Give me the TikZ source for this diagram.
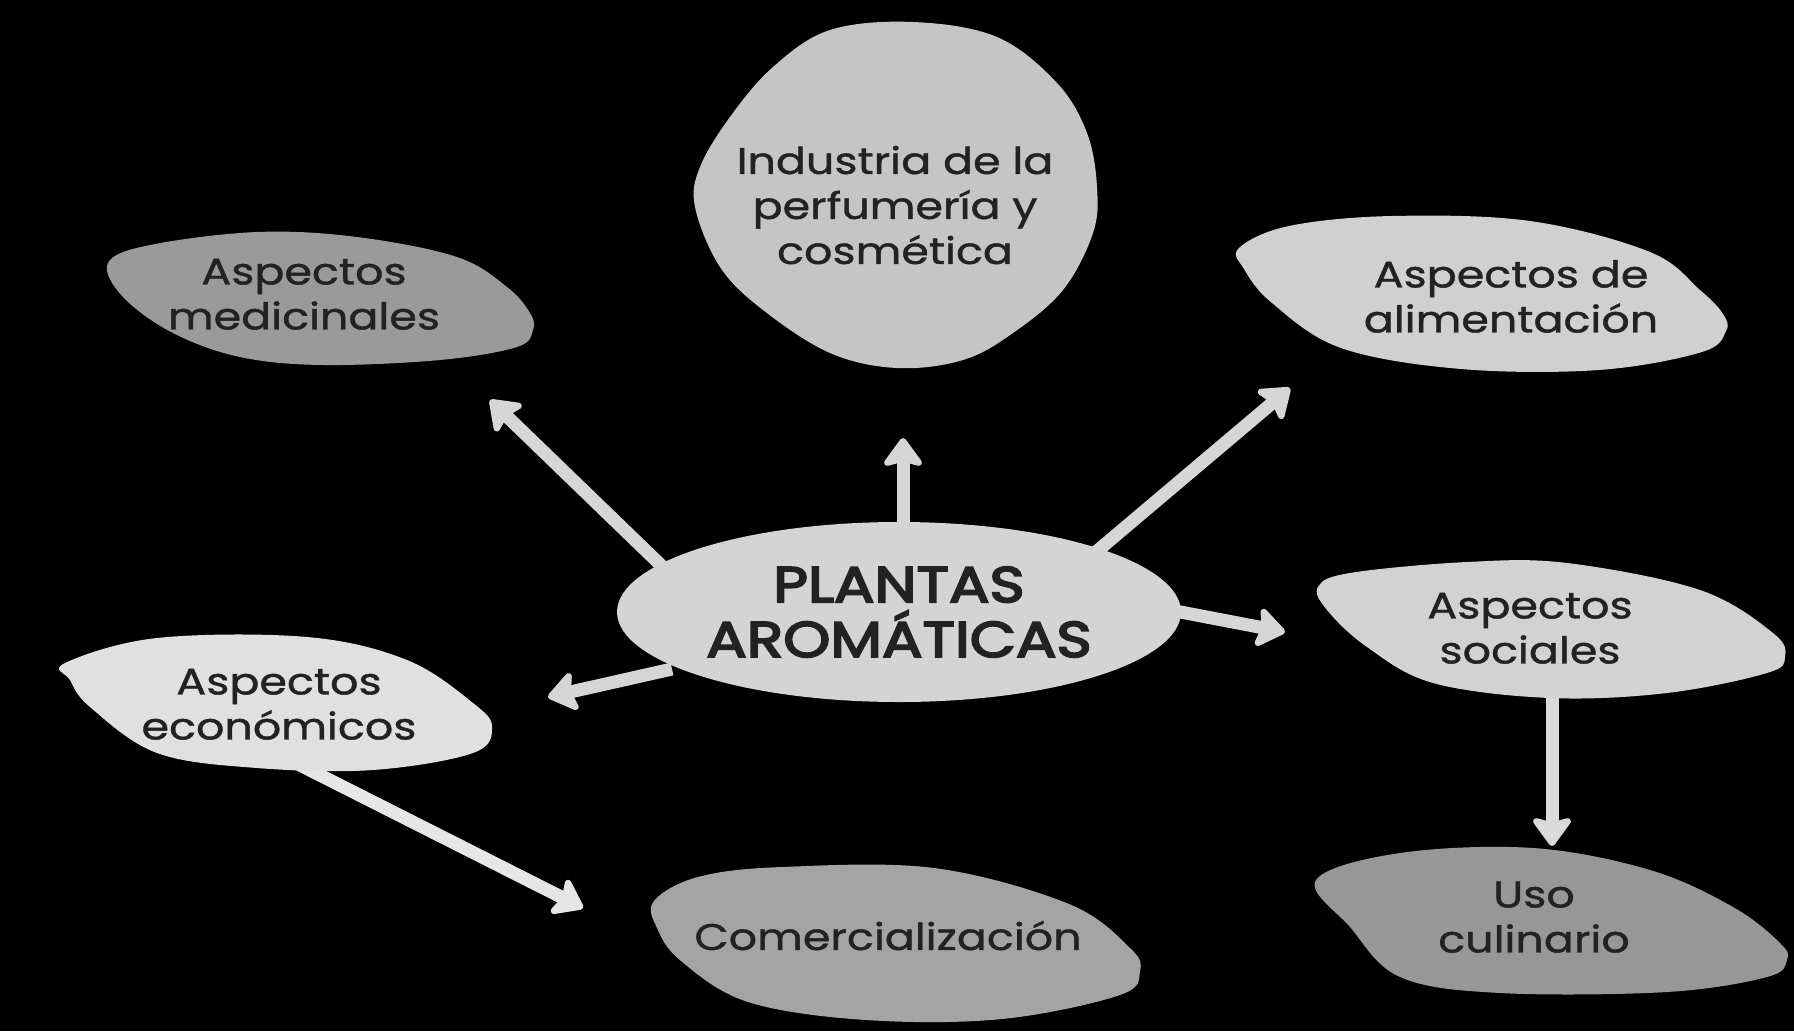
\documentclass[tikz,border=0pt]{standalone}
\usepackage{fontspec}
\setmainfont{Poppins}[FakeStretch=1.2]
\newfontfamily\lblfont{Poppins}[FakeStretch=1.2, FakeBold=1.1]
\newfontfamily\cenfont{Poppins}[FakeStretch=1.2, FakeBold=4]
\usetikzlibrary{arrows.meta,shapes.geometric}
\newcommand\lstrut{\rule[-0.15em]{0pt}{1em}}
\definecolor{txt}{HTML}{222222}
\definecolor{cInd}{HTML}{C5C5C5}
\definecolor{cMed}{HTML}{9A9A9A}
\definecolor{cAli}{HTML}{D0D0D0}
\definecolor{cCen}{HTML}{D4D4D4}
\definecolor{cSoc}{HTML}{D2D2D2}
\definecolor{cEco}{HTML}{E0E0E0}
\definecolor{cCom}{HTML}{A4A4A4}
\definecolor{cCul}{HTML}{979797}
\definecolor{aMain}{HTML}{D6D6D6}
\definecolor{aEco}{HTML}{E6E6E6}
\definecolor{aSoc}{HTML}{DADADA}
\tikzset{
  lbl/.style={inner sep=0pt, align=center, text=txt, font=\lblfont\fontsize{37}{45}\selectfont},
  blob/.style={fill=#1, draw=none},
  arr/.style={line width=13pt, draw=#1, -{Stealth[length=32pt,width=46pt,inset=6pt,round]}},
}
\begin{document}
\begin{tikzpicture}[x=1pt,y=-1pt]
\useasboundingbox (0,0) rectangle (1794,1031);
\fill[black] (0,0) rectangle (1794,1031);

% arrow end points
\coordinate (s1) at (668,572);  \coordinate (t1) at (490,400);
\coordinate (s2) at (903,540);  \coordinate (t2) at (903,438);
\coordinate (s3) at (1096,552); \coordinate (t3) at (1290,388);
\coordinate (s4) at (1170,610); \coordinate (t4) at (1285,632);
\coordinate (s5) at (672,669);  \coordinate (t5) at (548,697);
\coordinate (s6) at (290,760);  \coordinate (t6) at (583,908);
\coordinate (s7) at (1552,690); \coordinate (t7) at (1552,846);

\draw[arr=aMain] (s1) -- (t1);
\draw[arr=aMain] (s2) -- (t2);
\draw[arr=aMain] (s3) -- (t3);
\draw[arr=aMain] (s4) -- (t4);
\draw[arr=aMain] (s5) -- (t5);
\draw[arr=aEco] (s6) -- (t6);
\draw[arr=aSoc] (s7) -- (t7);

% blobs
\path[blob=cInd] plot[smooth cycle, tension=0.6] coordinates {(830,30) (913,22) (997,37) (1057,83) (1087,133) (1097,187) (1093,233) (1063,290) (1013,333) (963,360) (897,368) (830,353) (763,310) (720,267) (695,207) (700,167) (730,117) (773,67)};
\path[blob=cMed] plot[smooth cycle, tension=0.6] coordinates {(108,263) (150,245) (257,232) (357,237) (457,257) (507,287) (530,313) (533,330) (517,347) (440,360) (323,365) (240,357) (173,333) (123,297)};
\path[blob=cAli] plot[smooth cycle, tension=0.6] coordinates {(1239,248) (1289,226) (1392,216) (1530,221) (1650,252) (1700,290) (1723,314) (1726,331) (1702,352) (1599,370) (1461,369) (1341,348) (1272,303) (1244,269)};
\path[blob=cSoc] plot[smooth cycle, tension=0.6] coordinates {(1318,587) (1350,573) (1467,562) (1567,563) (1700,590) (1773,633) (1785,657) (1767,673) (1667,693) (1550,698) (1433,683) (1367,647) (1327,610)};
\path[blob=cCul] plot[smooth cycle, tension=0.6] coordinates {(1316,880) (1400,853) (1533,848) (1650,870) (1733,907) (1780,943) (1787,960) (1767,977) (1667,992) (1500,993) (1400,977) (1350,927)};
\path[blob=cEco] plot[smooth cycle, tension=0.6] coordinates {(65,663) (157,638) (307,637) (407,660) (473,703) (492,727) (473,753) (373,770) (257,768) (157,753) (90,707) (70,680)};
\path[blob=cCom] plot[smooth cycle, tension=0.6] coordinates {(654,901) (698,877) (782,867) (934,868) (1069,904) (1130,948) (1140,971) (1120,995) (1002,1019) (866,1020) (748,1002) (681,961) (657,928)};

% central node
\node[ellipse, fill=cCen, minimum width=564pt, minimum height=180pt, inner sep=0pt, align=center, text=txt,
      font=\cenfont\fontsize{50}{53}\selectfont] (c) at (899,612)
  {\lstrut PLANTAS\\\lstrut AROMÁTICAS};

% labels
\node[lbl] (ind) at (895,206) {\lstrut Industria de la\\\lstrut perfumería y\\\lstrut cosmética};
\node[lbl] (med) at (304,294) {\lstrut Aspectos\\\lstrut medicinales};
\node[lbl] (ali) at (1511,297) {\lstrut Aspectos de\\\lstrut alimentación};
\node[lbl] (soc) at (1530,628) {\lstrut Aspectos\\\lstrut sociales};
\node[lbl] (cul) at (1534,917) {\lstrut Uso\\\lstrut culinario};
\node[lbl] (eco) at (279,704) {\lstrut Aspectos\\\lstrut económicos};
\node[lbl] (com) at (888,937) {\lstrut Comercialización};
\end{tikzpicture}
\end{document}
